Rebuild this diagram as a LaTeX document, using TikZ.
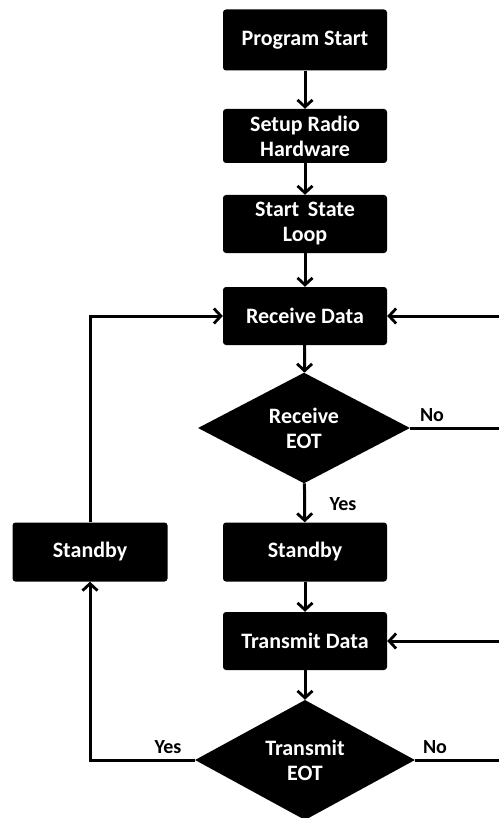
\documentclass[tikz,border=0pt]{standalone}
\usepackage{fontspec}
\setmainfont{Carlito}
\usetikzlibrary{shapes.geometric,arrows.meta}
\begin{document}
\begin{tikzpicture}[x=1pt,y=-1pt,
  stepbox/.style={fill=black, rounded corners=3pt, minimum width=164pt,
    text=white, font=\fontsize{22}{25}\selectfont\bfseries, align=center, inner sep=0pt},
  decision/.style={diamond, fill=black, text=white, inner sep=0pt,
    font=\fontsize{22}{25}\selectfont\bfseries, align=center},
  lbl/.style={font=\fontsize{20}{23}\selectfont\bfseries, inner sep=0pt},
  flow/.style={line width=3pt, -{Straight Barb[length=7pt,width=15pt,line width=2.8pt]}},
  link/.style={line width=3pt}]
\useasboundingbox (0,0) rectangle (499,818);

% main column
\node[stepbox, minimum height=61pt] (ps)  at (305,40)  {Program Start};
\node[stepbox, minimum height=54pt] (hw)  at (305,136) {Setup Radio\\Hardware};
\node[stepbox, minimum height=58pt] (ssl) at (305,224) {Start\, State\\Loop};
\node[stepbox, minimum height=58pt] (rd)  at (305,316) {Receive Data};
\node[decision, minimum width=212pt, minimum height=106pt] (reot) at (304,428) {Receive\\EOT};
\node[stepbox, minimum height=59pt] (sb)  at (305,552) {Standby};
\node[stepbox, minimum height=58pt] (td)  at (305,641) {Transmit Data};
\node[decision, minimum width=220pt, minimum height=114pt] (teot) at (305,760) {Transmit\\EOT};

% side branch
\node[stepbox, minimum width=155pt, minimum height=59pt] (lsb) at (90,552) {Standby};

% loop ends leaving the page on the right
\coordinate (r1) at (499,316);
\coordinate (r2) at (499,428);
\coordinate (r3) at (499,641);
\coordinate (r4) at (499,760);

% straight flow
\draw[flow] (ps) -- (hw);
\draw[flow] (hw) -- (ssl);
\draw[flow] (ssl) -- (rd);
\draw[flow] (rd) -- (reot);
\draw[flow] (reot) -- (sb);
\draw[flow] (sb) -- (td);
\draw[flow] (td) -- (teot);

% transmit EOT yes -> standby -> receive data
\draw[flow] (teot.west) -| (lsb.south);
\draw[flow] (lsb.north) |- (rd.west);

% right side
\draw[flow] (r1) -- (rd.east);
\draw[link] (reot.east) -- (r2);
\draw[flow] (r3) -- (td.east);
\draw[link] (teot.east) -- (r4);

% labels
\node[lbl] (yes1) at (343,504) {Yes};
\node[lbl] (no1)  at (432,415) {No};
\node[lbl] (yes2) at (168,747) {Yes};
\node[lbl] (no2)  at (435,747) {No};
\end{tikzpicture}
\end{document}
